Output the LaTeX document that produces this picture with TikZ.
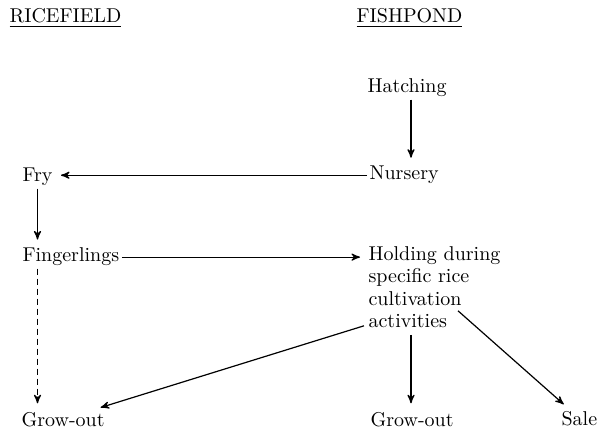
\documentclass[tikz,border=0pt]{standalone}
\usepackage{tikz}
\usetikzlibrary{arrows, positioning}

\begin{document}
\begin{tikzpicture}[x=0.5pt,y=-0.5pt,shorten >=3pt,>=stealth',line width=0.6pt]
    \tikzstyle{stage}=[inner sep=1pt,anchor=base west,font=\fontsize{10}{11.25}\selectfont]
    \tikzstyle{head}=[stage]
    \useasboundingbox (0,0) rectangle (597,431);

    \node[head] (rice) at (7,23) {\underline{RICEFIELD}};
    \node[head] (fish) at (354,23) {\underline{FISHPOND}};

    \node[stage] (hatch) at (365,93) {Hatching};
    \node[stage] (nurs) at (367,180) {Nursery};
    \node[stage] (fry) at (20,182) {Fry};
    \node[stage] (fing) at (20,262) {Fingerlings};
    \node[stage, anchor=north west, align=left] (hold) at (366,244)
        {Holding during\\ specific rice\\ cultivation\\ activities};
    \node[stage] (grow1) at (19,426) {Grow-out};
    \node[stage] (grow2) at (368,426) {Grow-out};
    \node[stage] (sale) at (559,425) {Sale};

    \coordinate (mid) at (411,0);
    \coordinate (act) at ([xshift=-1pt,yshift=2.5pt]hold.south west);
    \coordinate (cult) at ([xshift=46pt,yshift=10pt]hold.south west);

    \path[->]
    (hatch.south -| mid) edge (nurs.north -| mid)
    (nurs.west) edge (nurs.west -| fry.east)
    (fry.south) edge (fry.south |- fing.north)
    (fing.east) edge (fing.east -| hold.west)
    (act) edge (grow1)
    (hold.south -| mid) edge[shorten <=2pt] (grow2.north -| mid)
    (cult) edge (sale)
   ;
   \draw[->, dash pattern=on 3pt off 2pt] (fing.south -| fry) -- (grow1.north -| fry);

\end{tikzpicture}
\end{document}
